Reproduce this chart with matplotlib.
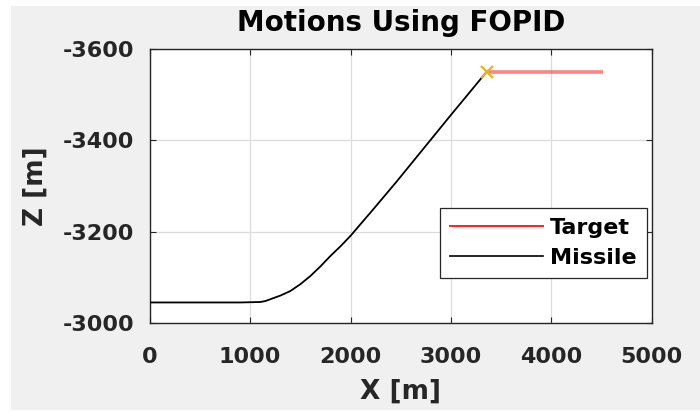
import matplotlib
matplotlib.use('Agg')
import matplotlib.pyplot as plt
from matplotlib.lines import Line2D
from matplotlib.patches import Rectangle

# ── data
missile_x = [0, 900, 1100, 1150, 1200, 1300, 1400, 1500, 1600, 1700, 1800,
             1900, 2000, 2230, 2460, 2790, 2990, 3355]
missile_z = [-3045, -3045, -3046, -3048, -3052, -3060, -3070, -3085, -3103,
             -3124, -3147, -3168, -3191, -3250, -3310, -3399, -3453, -3550]
target_x = [3355, 4510]
target_z = [-3550, -3550]
hit_x = [3355]
hit_z = [-3550]

x_ticks = [0, 1000, 2000, 3000, 4000, 5000]
z_ticks = [-3600, -3400, -3200, -3000]

C_BG = '#f0f0f0'
C_AX = '#262626'
FONT = 'DejaVu Sans'

fig = plt.figure(figsize=(7, 4.12), dpi=100, facecolor='white')
fig.patches.append(Rectangle((11 / 700, 2 / 412), 689 / 700, 404 / 412,
                             transform=fig.transFigure, facecolor=C_BG,
                             edgecolor='none', zorder=-10))
ax = fig.add_axes([0.214, 0.216, 0.717, 0.665])
ax.set_facecolor('white')

ax.plot(target_x, target_z, color='#ff3030', alpha=0.6, lw=2.6,
        solid_capstyle='butt', zorder=3)
ax.plot(missile_x, missile_z, color='black', lw=1.3, zorder=4)
ax.plot(hit_x, hit_z, marker='x', color='#EDB120', ms=8, mew=1.6,
        ls='none', zorder=5)

ax.set_xlim(0, 5000)
ax.set_ylim(-3000, -3600)
ax.set_xticks(x_ticks)
ax.set_yticks(z_ticks)
ax.set_xticklabels([str(t) for t in x_ticks])
ax.set_yticklabels([str(t) for t in z_ticks])
ax.tick_params(direction='in', length=4, width=0.8, top=True, right=True,
               labelsize=16, colors=C_AX)
ax.tick_params(axis='x', pad=17)
ax.tick_params(axis='y', pad=11)
for lab in ax.get_xticklabels() + ax.get_yticklabels():
    lab.set_fontfamily(FONT)
    lab.set_fontweight('bold')
ax.grid(True, color='#dcdcdc', lw=0.9)
ax.set_axisbelow(True)
for sp in ax.spines.values():
    sp.set_color(C_AX)
    sp.set_linewidth(1.0)

ax.set_xlabel('X [m]', fontsize=19, fontweight='bold', family=FONT,
              color=C_AX, labelpad=9)
ax.set_ylabel('Z [m]', fontsize=19, fontweight='bold', family=FONT,
              color=C_AX, labelpad=10)
ax.set_title('Motions Using FOPID', fontsize=20, fontweight='bold',
             family=FONT, color='black', pad=13)

handles = [Line2D([], [], color='#ff2020', lw=1.4),
           Line2D([], [], color='black', lw=1.2)]
leg = ax.legend(handles, ['Target', 'Missile'], loc='lower right',
                bbox_to_anchor=(0.99, 0.164), borderaxespad=0,
                fancybox=False, framealpha=1, edgecolor=C_AX,
                handlelength=4.2, borderpad=0.45, labelspacing=0.45,
                handletextpad=0.3,
                prop={'family': FONT, 'weight': 'bold', 'size': 16})
leg.get_frame().set_linewidth(0.9)

fig.savefig('out.png', dpi=100, facecolor=fig.get_facecolor())
